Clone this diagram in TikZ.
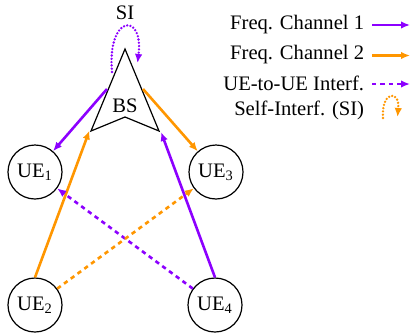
\documentclass[tikz,border=0pt]{standalone}
\usepackage{fontspec}
\setmainfont{Liberation Serif}
\usetikzlibrary{arrows.meta}
\definecolor{chA}{RGB}{140,0,255}
\definecolor{chB}{RGB}{255,150,0}
\begin{document}
\begin{tikzpicture}[x=0.5pt,y=-0.5pt,
  ue/.style={circle,draw,line width=0.6pt,minimum size=27pt,inner sep=0pt,font=\fontsize{10.3}{12}\selectfont},
  tip/.style={-{Latex[length=4.5pt,width=3.8pt]}},
  solidA/.style={tip,draw=chA,line width=1.3pt},
  solidB/.style={tip,draw=chB,line width=1.3pt},
  dashA/.style={tip,draw=chA,line width=1.3pt,dash pattern=on 2.2pt off 2pt},
  dashB/.style={tip,draw=chB,line width=1.3pt,dash pattern=on 2.2pt off 2pt},
  dotA/.style={tip,draw=chA,line width=1.3pt,line cap=round,dash pattern=on 0pt off 1.65pt},
  dotB/.style={tip,draw=chB,line width=1.3pt,line cap=round,dash pattern=on 0pt off 1.65pt},
  lbl/.style={inner sep=0pt,font=\fontsize{10.3}{12}\selectfont},
  leg/.style={lbl,anchor=east}]
\useasboundingbox (0,0) rectangle (411,332);
% BS shape
\coordinate (bsT) at (125,49);
\coordinate (bsL) at (91,131);
\coordinate (bsN) at (125,117);
\coordinate (bsR) at (159,131);
\draw[line width=0.6pt,line join=miter] (bsT) -- (bsL) -- (bsN) -- (bsR) -- cycle;
\node[lbl] (bs) at (125,106) {BS};
\node[lbl] (si) at (125,13) {SI};
% UEs
\node[ue] (ue1) at (35,172) {UE\textsubscript{1}};
\node[ue] (ue3) at (216,172) {UE\textsubscript{3}};
\node[ue] (ue2) at (35,305) {UE\textsubscript{2}};
\node[ue] (ue4) at (215,305) {UE\textsubscript{4}};
% arrow ends on BS
\coordinate (bsA) at (107,89);
\coordinate (bsB) at (143,89);
\coordinate (bsC) at (89.5,130.5);
\coordinate (bsD) at (161,132);
\coordinate (siS) at (112,72);
\coordinate (siE) at (137.5,63);
% links
\draw[solidA] (bsA) -- (ue1);
\draw[solidB] (bsB) -- (ue3);
\draw[solidB] (ue2.north) -- (bsC);
\draw[solidA] (ue4.north) -- (bsD);
\draw[dashA] (ue4) -- (ue1);
\draw[dashB] (ue2) -- (ue3);
\draw[dotA] (siS) .. controls (107,14) and (144,12) .. (siE);
% legend
\node[leg] (l1) at (364.5,25) {Freq. Channel 1};
\node[leg] (l2) at (364.5,55) {Freq. Channel 2};
\node[leg] (l3) at (364.5,83) {UE-to-UE Interf.};
\node[leg] (l4) at (364.5,110) {Self-Interf. (SI)};
\coordinate (a1s) at (372,25); \coordinate (a1e) at (410,25);
\coordinate (a2s) at (372,55.5); \coordinate (a2e) at (410,55.5);
\coordinate (a3s) at (372,84); \coordinate (a3e) at (410,84);
\coordinate (a4s) at (383,118); \coordinate (a4e) at (397.5,117);
\draw[solidA] (a1s) -- (a1e);
\draw[solidB] (a2s) -- (a2e);
\draw[dashA] (a3s) -- (a3e);
\draw[dotB] (a4s) .. controls (381,91) and (400,89) .. (a4e);
\end{tikzpicture}
\end{document}
